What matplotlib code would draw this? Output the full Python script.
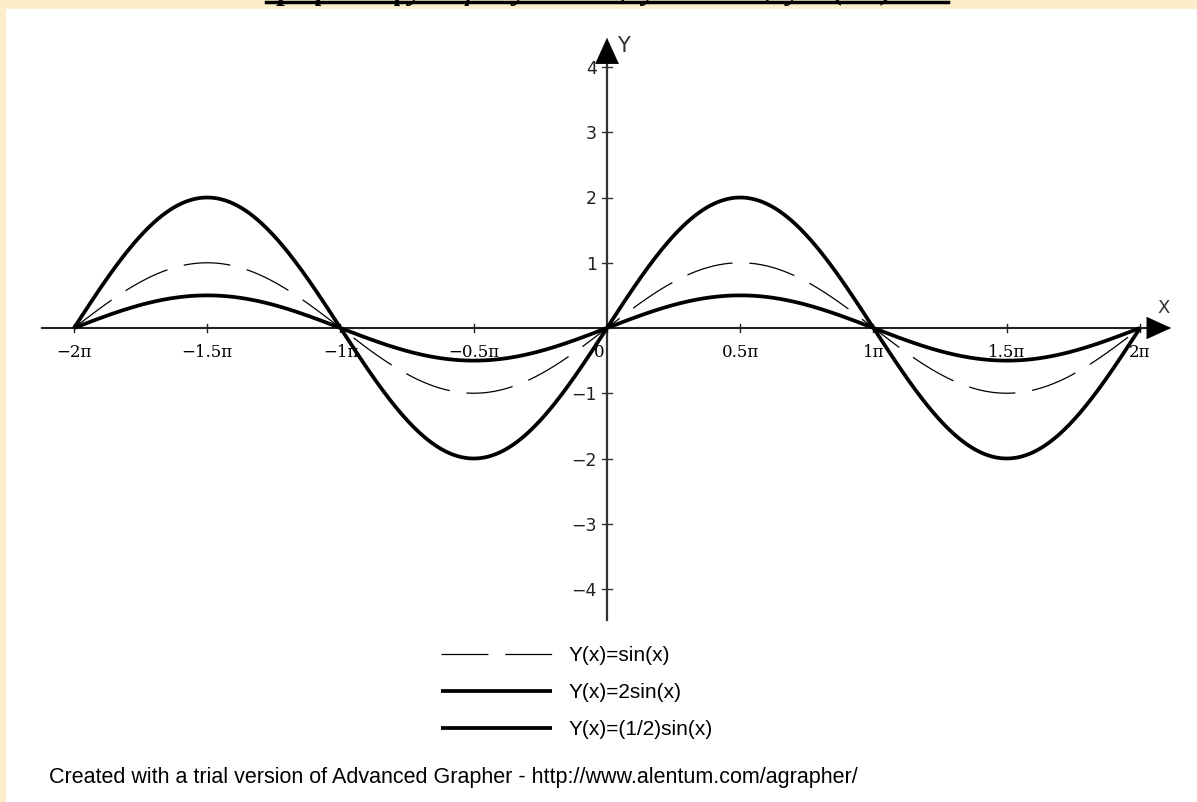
import numpy as np
import matplotlib.pyplot as plt
from matplotlib.patches import Rectangle

# Functions shown in the chart: Y(x) = a*sin(x)
labels = ["Y(x)=sin(x)", "Y(x)=2sin(x)", "Y(x)=(1/2)sin(x)"]
amplitudes = [1.0, 2.0, 0.5]
styles = ["dashed", "solid", "solid"]

x_ticks = np.array([-2, -1.5, -1, -0.5, 0, 0.5, 1, 1.5, 2]) * np.pi
x_tick_labels = ["\u22122\u03c0", "\u22121.5\u03c0", "\u22121\u03c0", "\u22120.5\u03c0", "0",
                 "0.5\u03c0", "1\u03c0", "1.5\u03c0", "2\u03c0"]
y_ticks = [4, 3, 2, 1, -1, -2, -3, -4]
y_tick_labels = ["4", "3", "2", "1", "\u22121", "\u22122", "\u22123", "\u22124"]

title = "Графики функций y = sin x,  y = 2sin x,  y = (1/2)sin x"
footer = "Created with a trial version of Advanced Grapher - http://www.alentum.com/agrapher/"

W, H = 1197, 802
fig = plt.figure(figsize=(W / 100, H / 100), dpi=100)
fig.patch.set_facecolor("#fdeecb")
fig.patches.append(Rectangle((6 / W, 0), 1, 1 - 9 / H, transform=fig.transFigure,
                             facecolor="white", edgecolor="none", zorder=-5))

# pixel layout of the origin and scale
x0_px, y0_px = 607, 328
kx = 266.5 / np.pi   # px per unit x
ky = 65.25           # px per unit y

ax = fig.add_axes([0, 0, 1, 1])
ax.set_facecolor("none")
ax.set_xlim(-x0_px / kx, (W - x0_px) / kx)
ax.set_ylim(-(H - y0_px) / ky, y0_px / ky)
ax.axis("off")

# axes with arrows
ax.plot([(42 - x0_px) / kx, (1160 - x0_px) / kx], [0, 0], color="#222222", lw=1.5, zorder=2)
ax.plot([0, 0], [(y0_px - 620) / ky, (y0_px - 50) / ky], color="#333333", lw=1.6, zorder=2)
ax.annotate("", xy=((1174 - x0_px) / kx, 0), xytext=((1150 - x0_px) / kx, 0),
            arrowprops=dict(arrowstyle="-|>,head_length=1.1,head_width=0.5",
                            color="black", lw=0.1, mutation_scale=16), zorder=3)
ax.annotate("", xy=(0, (y0_px - 35) / ky), xytext=(0, (y0_px - 60) / ky),
            arrowprops=dict(arrowstyle="-|>,head_length=1.1,head_width=0.5",
                            color="black", lw=0.1, mutation_scale=17), zorder=3)
ax.text((617 - x0_px) / kx, (y0_px - 46) / ky, "Y", fontsize=15, family="DejaVu Sans",
        va="center", ha="left", color="#333333")
ax.text((1164 - x0_px) / kx, (y0_px - 308) / ky, "X", fontsize=13, family="DejaVu Sans",
        va="center", ha="center", color="#333333")

# ticks and tick labels
tx = 5 / kx
ty = 4 / ky
for v in y_ticks:
    ax.plot([-tx, tx], [v, v], color="#333333", lw=1.0, zorder=2)
for v, lab in zip(y_ticks, y_tick_labels):
    ax.text(-10 / kx, v - 2 / ky, lab, fontsize=12.5, family="DejaVu Sans",
            ha="right", va="center", color="#222222")
for v in x_ticks:
    ax.plot([v, v], [-ty, ty], color="#222222", lw=1.0, zorder=2)
for v, lab in zip(x_ticks, x_tick_labels):
    dx = -8 / kx if v == 0 else 0
    ax.text(v + dx, -24 / ky, lab, fontsize=12, family="DejaVu Serif",
            ha="center", va="center", color="black", zorder=1)

# curves
x = np.linspace(-2 * np.pi, 2 * np.pi, 800)
handles = []
for a, lab, st in zip(amplitudes, labels, styles):
    if st == "dashed":
        h, = ax.plot(x, a * np.sin(x), color="black", lw=0.9, dashes=(37.5, 13.5),
                     label=lab, zorder=4)
    else:
        h, = ax.plot(x, a * np.sin(x), color="black", lw=2.7, label=lab,
                     solid_capstyle="butt", zorder=4)
    handles.append(h)

leg = ax.legend(handles=handles, loc="upper left", bbox_to_anchor=(441 / W, 1 - 646 / H),
                bbox_transform=fig.transFigure, frameon=False, borderpad=0,
                borderaxespad=0, handlelength=5.33, handletextpad=0.77,
                labelspacing=0.87, prop={"family": "Liberation Sans", "size": 15})

fig.text(49 / W, 1 - 777 / H, footer, fontsize=15.5, family="Liberation Sans",
         ha="left", va="center", color="black")

# title, cut off by the top edge as in the source picture
fig.text(607 / W, 1 + 1 / H, title, fontsize=22, family="Liberation Serif",
         style="italic", weight="bold", ha="center", va="baseline")
fig.lines.append(plt.Line2D([266 / W, 948 / W], [1 - 1.5 / H, 1 - 1.5 / H],
                            transform=fig.transFigure, color="black", lw=2.5))

fig.savefig("out.png", dpi=100, facecolor=fig.get_facecolor())
